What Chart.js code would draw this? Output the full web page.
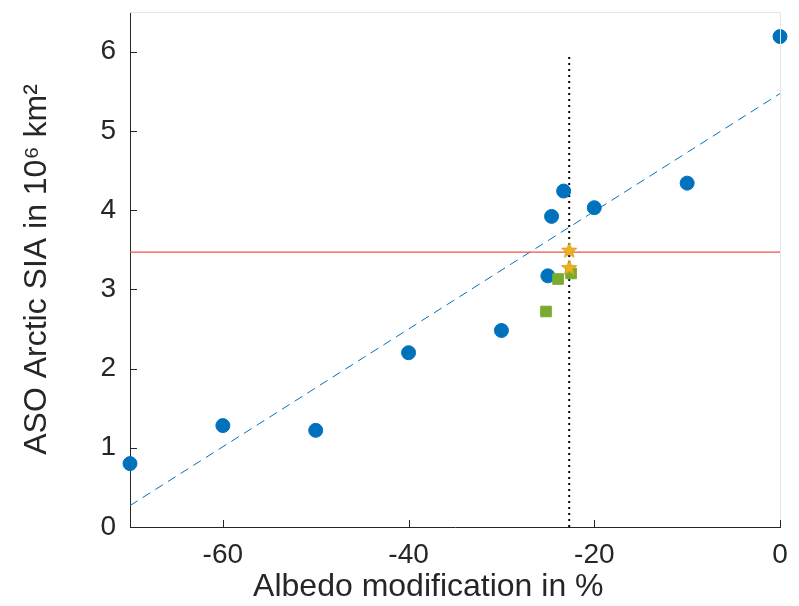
<!DOCTYPE html>
<html>
<head>
<meta charset="utf-8">
<script src="https://cdn.jsdelivr.net/npm/chart.js@4.4.0/dist/chart.umd.min.js"></script>
<style>
  html, body { margin: 0; padding: 0; background: #fff; }
  #wrap { width: 799px; height: 606px; }
</style>
</head>
<body>
<div id="wrap"><canvas id="siaChart" width="799" height="606"></canvas></div>
<script>
const ctx = document.getElementById("siaChart");

// model runs: albedo modification (%) vs September SIA (10^6 km^2)
const albedo = [-70, -60, -50, -40, -30, -25, -24.6, -23.3, -20, -10, 0];
const sia = [0.8, 1.28, 1.22, 2.2, 2.48, 3.17, 3.92, 4.24, 4.03, 4.34, 6.19];

// green squares
const sqAlbedo = [-25.2, -23.9, -22.5];
const sqSia = [2.72, 3.13, 3.2];

// orange stars
const starAlbedo = [-22.7, -22.7];
const starSia = [3.5, 3.28];

// reference lines
const obsSia = 3.47;
const critAlbedo = -22.7;
const critTop = 5.95;
const fitAlbedo = [-70, 0];
const fitSia = [0.27, 5.47];

const xTicks = [-60, -40, -20, 0];
const yTicks = [0, 1, 2, 3, 4, 5, 6];

function makeStar(size, color) {
  const c = document.createElement("canvas");
  c.width = size;
  c.height = size;
  const g = c.getContext("2d");
  const cx = size / 2, cy = size / 2 + 1;
  const ro = size / 2 - 1, ri = ro * 0.42;
  g.beginPath();
  for (let i = 0; i < 10; i++) {
    const r = i % 2 === 0 ? ro : ri;
    const a = -Math.PI / 2 + (i * Math.PI) / 5;
    g.lineTo(cx + r * Math.cos(a), cy + r * Math.sin(a));
  }
  g.closePath();
  g.fillStyle = color;
  g.fill();
  g.strokeStyle = "#D9A01A";
  g.lineWidth = 1;
  g.stroke();
  return c;
}

const starImg = makeStar(18, "#EDB120");

const toPoints = (xs, ys) => xs.map((x, i) => ({ x: x, y: ys[i] }));

// MATLAB-like inward tick marks plus light top/right box
const boxTicks = {
  id: "boxTicks",
  afterDraw(chart) {
    const { ctx, chartArea: a, scales } = chart;
    ctx.save();
    ctx.strokeStyle = "#e6e6e6";
    ctx.lineWidth = 1;
    ctx.beginPath();
    ctx.moveTo(a.left, a.top + 0.5);
    ctx.lineTo(a.right + 0.5, a.top + 0.5);
    ctx.lineTo(a.right + 0.5, a.bottom);
    ctx.stroke();
    ctx.strokeStyle = "#262626";
    ctx.beginPath();
    xTicks.forEach((v) => {
      const px = Math.round(scales.x.getPixelForValue(v)) + 0.5;
      ctx.moveTo(px, a.bottom);
      ctx.lineTo(px, a.bottom - 7);
    });
    yTicks.forEach((v) => {
      const py = Math.round(scales.y.getPixelForValue(v)) + 0.5;
      ctx.moveTo(a.left, py);
      ctx.lineTo(a.left + 7, py);
    });
    ctx.stroke();
    ctx.restore();
  },
};

new Chart(ctx, {
  type: "scatter",
  data: {
    datasets: [
      {
        label: "fit",
        type: "line",
        data: toPoints(fitAlbedo, fitSia),
        borderColor: "#0072BD",
        borderWidth: 1,
        borderDash: [9, 6],
        pointRadius: 0,
        order: 5,
      },
      {
        label: "observed",
        type: "line",
        data: toPoints([-70, 0], [obsSia, obsSia]),
        borderColor: "#F0504A",
        borderWidth: 1.2,
        pointRadius: 0,
        order: 4,
      },
      {
        label: "critical",
        type: "line",
        data: toPoints([critAlbedo, critAlbedo], [0, critTop]),
        borderColor: "#000000",
        borderWidth: 2,
        borderDash: [2, 4],
        pointRadius: 0,
        order: 3,
      },
      {
        label: "runs",
        data: toPoints(albedo, sia),
        backgroundColor: "#0072BD",
        borderColor: "#0072BD",
        pointRadius: 7,
        order: 2,
      },
      {
        label: "squares",
        data: toPoints(sqAlbedo, sqSia),
        pointStyle: "rect",
        backgroundColor: "#77AC30",
        borderColor: "#77AC30",
        pointRadius: 7.5,
        order: 1,
      },
      {
        label: "stars",
        data: toPoints(starAlbedo, starSia),
        pointStyle: starImg,
        order: 0,
      },
    ],
  },
  options: {
    responsive: false,
    animation: false,
    clip: false,
    layout: { padding: { top: 12, right: 19, left: 0, bottom: 0 } },
    plugins: {
      legend: { display: false },
      tooltip: { enabled: false },
    },
    scales: {
      x: {
        type: "linear",
        min: -70,
        max: 0,
        afterBuildTicks: (s) => { s.ticks = xTicks.map((v) => ({ value: v })); },
        afterFit: (s) => { s.height = 79; },
        grid: { display: false },
        border: { display: true, color: "#262626", width: 1 },
        ticks: {
          color: "#262626",
          font: { family: "Liberation Sans", size: 28 },
          padding: 3,
          maxRotation: 0,
        },
        title: {
          display: true,
          // trailing spaces nudge the title left like the original figure
          text: "Albedo modification in %      ",
          color: "#262626",
          font: { family: "Liberation Sans", size: 32 },
          padding: { top: 0, bottom: 0 },
        },
      },
      y: {
        type: "linear",
        min: 0,
        max: 6.5,
        afterBuildTicks: (s) => { s.ticks = yTicks.map((v) => ({ value: v })); },
        afterFit: (s) => {
          s.width = 130;
          s.paddingTop = 0;
          s.paddingBottom = 0;
        },
        grid: { display: false },
        border: { display: true, color: "#262626", width: 1 },
        ticks: {
          color: "#262626",
          font: { family: "Liberation Sans", size: 28 },
          padding: 6,
        },
        title: {
          display: true,
          text: "ASO Arctic SIA in 10⁶ km²",
          color: "#262626",
          font: { family: "Liberation Sans", size: 32 },
          padding: { top: 18, bottom: 0 },
        },
      },
    },
  },
  plugins: [boxTicks],
});
</script>
</body>
</html>
